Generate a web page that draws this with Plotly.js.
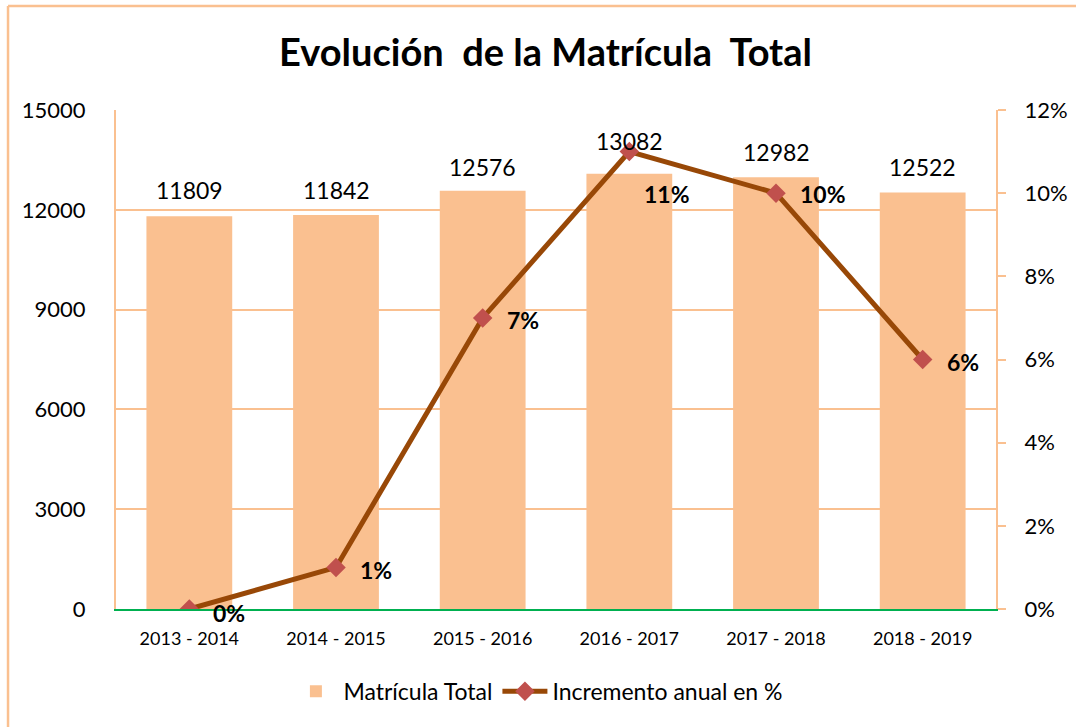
<!DOCTYPE html>
<html>
<head>
<meta charset="utf-8">
<script src="https://cdn.plot.ly/plotly-3.0.1.min.js"></script>
<style>
html,body{margin:0;padding:0;background:#fff;}
#chart{width:1076px;height:727px;}
</style>
</head>
<body>
<div id="chart"></div>
<script>
const categories = ["2013 - 2014","2014 - 2015","2015 - 2016","2016 - 2017","2017 - 2018","2018 - 2019"];
const matricula = [11809, 11842, 12576, 13082, 12982, 12522];
const incremento = [0, 1, 7, 11, 10, 6];
const leftTicks = [0, 3000, 6000, 9000, 12000, 15000];
const rightTicks = [0, 2, 4, 6, 8, 10, 12];

const FONT = "Lato, 'Open Sans', sans-serif";
const barColor = "#FAC090";
const gridColor = "#FAC090";

const traces = [
  {
    type: "bar",
    name: "Matrícula Total",
    x: categories,
    y: matricula,
    marker: {color: barColor},
    width: 0.585,
    hoverinfo: "x+y"
  },
  {
    type: "scatter",
    mode: "lines+markers",
    name: "Incremento anual en %",
    x: categories,
    y: incremento,
    yaxis: "y2",
    line: {color: "#984807", width: 5},
    marker: {symbol: "diamond", size: 15, color: "#C0504D"}
  }
];

// label offsets (pixels)
const barLabelShift = [26, 25, 24, 33, 25, 25];
const pctShift = [
  {x: 22, y: -4}, {x: 22, y: -3}, {x: 22, y: -2}, {x: 13, y: -42}, {x: 22, y: -1}, {x: 22, y: -2}
];

const annotations = [];
categories.forEach((c, i) => {
  annotations.push({
    x: c, y: matricula[i], xref: "x", yref: "y",
    text: String(matricula[i]), showarrow: false,
    yanchor: "middle", xanchor: "center", yshift: barLabelShift[i],
    font: {family: FONT, size: 23, color: "#000"}
  });
  annotations.push({
    x: c, y: incremento[i], xref: "x", yref: "y2",
    text: "<b>" + incremento[i] + "%</b>", showarrow: false,
    yanchor: "middle", xanchor: "left",
    xshift: pctShift[i].x, yshift: pctShift[i].y,
    font: {family: FONT, size: 23, color: "#000"}
  });
});

const layout = {
  width: 1076, height: 727,
  margin: {l: 116, r: 80, t: 110, b: 118},
  paper_bgcolor: "#fff", plot_bgcolor: "#fff",
  font: {family: FONT, color: "#000"},
  title: {
    text: "<b>Evolución  de la Matrícula  Total</b>",
    x: 0.507, xanchor: "center", y: 0.928, yanchor: "middle",
    font: {family: FONT, size: 38, color: "#000"}
  },
  showlegend: true,
  legend: {
    orientation: "h", x: 0.48, xanchor: "center", y: -0.165, yanchor: "middle",
    font: {family: FONT, size: 23, color: "#000"},
    itemwidth: 45, traceorder: "normal"
  },
  bargap: 0.415,
  xaxis: {
    type: "category",
    showgrid: false,
    showline: true, linecolor: "#00B050", linewidth: 2,
    ticks: "", ticklabelstandoff: 12,
    tickfont: {family: FONT, size: 18, color: "#000"},
    zeroline: false, fixedrange: true
  },
  yaxis: {
    range: [0, 15000], tickvals: leftTicks, ticktext: leftTicks.map(String),
    showgrid: true, gridcolor: gridColor, gridwidth: 2,
    showline: true, linecolor: gridColor, linewidth: 2,
    ticks: "", ticklabelstandoff: 24,
    tickfont: {family: FONT, size: 22, color: "#000"},
    zeroline: false, fixedrange: true
  },
  yaxis2: {
    overlaying: "y", side: "right",
    range: [0, 12], tickvals: rightTicks, ticktext: rightTicks.map(v => v + "%"),
    showgrid: false,
    showline: true, linecolor: gridColor, linewidth: 2,
    ticks: "outside", ticklen: 8, tickwidth: 2, tickcolor: gridColor,
    ticklabelstandoff: 14,
    tickfont: {family: FONT, size: 22, color: "#000"},
    zeroline: false, fixedrange: true
  },
  annotations: annotations,
  shapes: [
    {type: "line", xref: "paper", yref: "paper", x0: -0.1227, x1: -0.1227, y0: -0.25, y1: 1.2084,
     line: {color: "#FAC090", width: 2.5}},
    {type: "line", xref: "paper", yref: "paper", x0: -0.1227, x1: 1.2, y0: 1.2084, y1: 1.2084,
     line: {color: "#FAC090", width: 2.5}}
  ]
};

Plotly.newPlot("chart", traces, layout, {displayModeBar: false, responsive: false});
</script>
</body>
</html>
